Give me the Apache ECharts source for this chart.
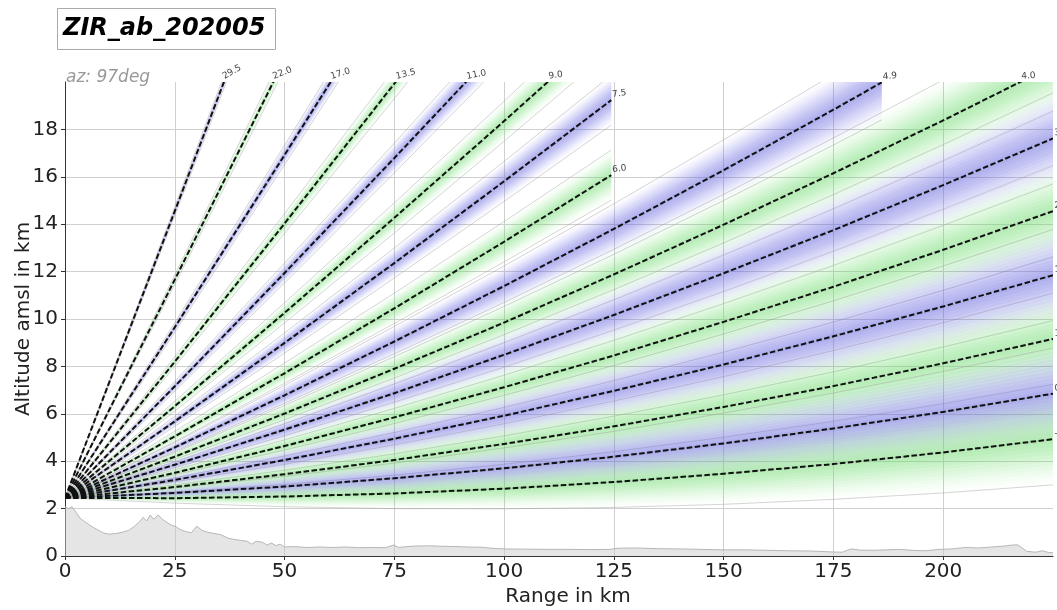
<!DOCTYPE html>
<html><head><meta charset="utf-8">
<script src="https://cdn.jsdelivr.net/npm/echarts@6/dist/echarts.min.js"></script>
<style>html,body{margin:0;padding:0;background:#fff}#chart{width:1057px;height:610px}</style>
</head><body><div id="chart"></div>
<script>
// ---------------- DATA ----------------
const xTicks = [0, 25, 50, 75, 100, 125, 150, 175, 200];
const yTicks = [0, 2, 4, 6, 8, 10, 12, 14, 16, 18];
const sampleRanges = [0, 25, 50, 75, 100, 125, 150, 175, 200, 225];

const beamLabels = ['29.5','22.0','17.0','13.5','11.0','9.0','7.5','6.0','4.9','4.0','3.2','2.4','1.7','1.0','0.4','-0.1'];
const beamAngles = [29.5, 22.0, 17.0, 13.5, 11.0, 9.0, 7.5, 6.0, 4.9, 4.0, 3.2, 2.4, 1.7, 1.0, 0.4, -0.1];
const beamMaxRange = [125, 125, 125, 125, 125, 125, 124.4, 124.4, 186, 225, 225, 225, 225, 225, 225, 225];

// beam centre heights (km) at sampleRanges
const c29_5 = [2.45, 14.55, 26.72];
const c22_0 = [2.45, 11.66, 20.95];
const c17_0 = [2.45, 9.65, 16.92, 24.26];
const c13_5 = [2.45, 8.20, 14.03, 19.93, 25.89];
const c11_0 = [2.45, 7.16, 11.94, 16.79, 21.71];
const c9_0 = [2.45, 6.32, 10.26, 14.27, 18.35, 22.50];
const c7_5 = [2.45, 5.68, 8.99, 12.36, 15.81, 19.32];
const c6_0 = [2.45, 5.05, 7.71, 10.45, 13.26, 16.14];
const c4_9 = [2.45, 4.58, 6.78, 9.05, 11.39, 13.80, 16.28, 18.83, 21.45];
const c4_0 = [2.45, 4.19, 6.01, 7.90, 9.85, 11.88, 13.98, 16.15, 18.38, 20.69];
const c3_2 = [2.45, 3.85, 5.33, 6.87, 8.49, 10.17, 11.93, 13.75, 15.65, 17.62];
const c2_4 = [2.45, 3.51, 4.64, 5.85, 7.12, 8.46, 9.88, 11.36, 12.92, 14.55];
const c1_7 = [2.45, 3.21, 4.05, 4.95, 5.92, 6.97, 8.08, 9.27, 10.53, 11.85];
const c1_0 = [2.45, 2.91, 3.45, 4.05, 4.73, 5.47, 6.29, 7.17, 8.13, 9.16];
const c0_4 = [2.45, 2.66, 2.93, 3.28, 3.70, 4.19, 4.75, 5.38, 6.08, 6.85];
const cm0_1 = [2.45, 2.44, 2.51, 2.64, 2.84, 3.12, 3.47, 3.88, 4.37, 4.93];

// lower beam edge heights (km)
const l29_5 = [2.45, 14.36, 26.35];
const l22_0 = [2.45, 11.46, 20.55];
const l17_0 = [2.45, 9.44, 16.51, 23.64];
const l13_5 = [2.45, 8.00, 13.61, 19.30, 25.06];
const l11_0 = [2.45, 6.95, 11.52, 16.16, 20.88];
const l9_0 = [2.45, 6.11, 9.83, 13.63, 17.50, 21.44];
const l7_5 = [2.45, 5.47, 8.56, 11.73, 14.96, 18.26];
const l6_0 = [2.45, 4.83, 7.29, 9.81, 12.41, 15.08];
const l4_9 = [2.45, 4.36, 6.35, 8.41, 10.53, 12.73, 15.00, 17.34, 19.75];
const l4_0 = [2.45, 3.98, 5.58, 7.26, 9.00, 10.81, 12.70, 14.65, 16.68, 18.77];
const l3_2 = [2.45, 3.64, 4.90, 6.23, 7.63, 9.10, 10.65, 12.26, 13.95, 15.70];
const l2_4 = [2.45, 3.30, 4.22, 5.21, 6.27, 7.40, 8.60, 9.87, 11.21, 12.62];
const l1_7 = [2.45, 3.00, 3.62, 4.31, 5.07, 5.90, 6.80, 7.77, 8.82, 9.93];
const l1_0 = [2.45, 2.70, 3.02, 3.41, 3.87, 4.40, 5.01, 5.68, 6.42, 7.24];
const l0_4 = [2.45, 2.44, 2.51, 2.64, 2.84, 3.12, 3.47, 3.88, 4.37, 4.93];
const lm0_1 = [2.45, 2.23, 2.08, 2.00, 1.99, 2.05, 2.18, 2.39, 2.66, 3.00];

// upper beam edge heights (km)
const u29_5 = [2.45, 14.74, 27.09];
const u22_0 = [2.45, 11.86, 21.34];
const u17_0 = [2.45, 9.85, 17.33, 24.87];
const u13_5 = [2.45, 8.41, 14.45, 20.55, 26.72];
const u11_0 = [2.45, 7.37, 12.36, 17.42, 22.55];
const u9_0 = [2.45, 6.53, 10.68, 14.90, 19.19, 23.55];
const u7_5 = [2.45, 5.90, 9.41, 13.00, 16.65, 20.38];
const u6_0 = [2.45, 5.26, 8.14, 11.09, 14.11, 17.20];
const u4_9 = [2.45, 4.79, 7.20, 9.69, 12.24, 14.86, 17.56, 20.32, 23.16];
const u4_0 = [2.45, 4.41, 6.44, 8.53, 10.70, 12.94, 15.26, 17.64, 20.09, 22.61];
const u3_2 = [2.45, 4.07, 5.75, 7.51, 9.34, 11.24, 13.21, 15.25, 17.36, 19.54];
const u2_4 = [2.45, 3.72, 5.07, 6.49, 7.97, 9.53, 11.16, 12.86, 14.63, 16.47];
const u1_7 = [2.45, 3.43, 4.47, 5.59, 6.78, 8.04, 9.37, 10.77, 12.24, 13.78];
const u1_0 = [2.45, 3.13, 3.87, 4.69, 5.58, 6.54, 7.57, 8.67, 9.84, 11.09];
const u0_4 = [2.45, 2.87, 3.36, 3.92, 4.56, 5.26, 6.03, 6.88, 7.79, 8.78];
const um0_1 = [2.45, 2.66, 2.93, 3.28, 3.70, 4.19, 4.75, 5.38, 6.08, 6.85];

// terrain profile
const terrainRange = [0,0.8,1.6,2.5,3.4,4.5,5.5,6.5,7.5,8.7,
  10,11.5,13,14.5,15.8,17,17.8,18.6,19.4,20.2,
  21.2,22.2,23.2,24.2,25.2,26.2,27.5,28.8,30,31.2,
  32.5,34,35.5,37,38.5,40,41.5,42.5,43.5,45,
  46,47,48,49,50,52,55,58,61,64,
  67,70,73,74.8,76,78,80,83,86,89,
  92,95,97,100,105,110,115,120,124,126,
  130,135,140,145,150,155,160,165,170,175,
  177,179,181,184,187,190,193,196,199,202,
  205,208,211,214,215.5,217,219,221,222.5,224,
  225];
const terrainHeight = [2.08,2.0,2.08,1.85,1.6,1.45,1.32,1.2,1.1,0.98,
  0.92,0.95,1.0,1.08,1.25,1.45,1.63,1.48,1.73,1.55,
  1.73,1.55,1.42,1.3,1.24,1.12,1.03,0.98,1.26,1.08,
  1.0,0.95,0.9,0.76,0.7,0.66,0.62,0.5,0.62,0.58,
  0.46,0.55,0.44,0.5,0.38,0.4,0.36,0.38,0.36,0.38,
  0.35,0.36,0.35,0.46,0.36,0.4,0.42,0.43,0.41,0.4,
  0.38,0.37,0.33,0.3,0.29,0.28,0.28,0.27,0.28,0.33,
  0.34,0.31,0.3,0.28,0.26,0.26,0.24,0.22,0.21,0.17,
  0.16,0.3,0.25,0.24,0.26,0.28,0.24,0.22,0.28,0.3,
  0.36,0.34,0.38,0.42,0.46,0.47,0.2,0.16,0.22,0.15,
  0.14];

const beamCenter = [c29_5,c22_0,c17_0,c13_5,c11_0,c9_0,c7_5,c6_0,c4_9,c4_0,c3_2,c2_4,c1_7,c1_0,c0_4,cm0_1];
const beamLower  = [l29_5,l22_0,l17_0,l13_5,l11_0,l9_0,l7_5,l6_0,l4_9,l4_0,l3_2,l2_4,l1_7,l1_0,l0_4,lm0_1];
const beamUpper  = [u29_5,u22_0,u17_0,u13_5,u11_0,u9_0,u7_5,u6_0,u4_9,u4_0,u3_2,u2_4,u1_7,u1_0,u0_4,um0_1];

// ---------------- RENDERING ----------------
const FONT = "'DejaVu Sans', sans-serif";
const PURPLE = '110,110,230', GREEN = '120,225,120';
const LAYERS = 12, PEAK = 0.72, FALLOFF = 1.5;
// opacity of each nested layer so that total opacity falls off smoothly from centre to edge
const layerAlpha = [];
for (let m = 1; m <= LAYERS; m++) {
  layerAlpha.push(PEAK * (Math.pow(1 - (m - 1) / LAYERS, FALLOFF) - Math.pow(1 - m / LAYERS, FALLOFF)));
}

function beamPixels(api, i, arr) {
  const maxR = beamMaxRange[i];
  const pts = [];
  for (let k = 0; k < arr.length; k++) {
    const r = sampleRanges[k];
    const p = api.coord([r, arr[k]]);
    if (r <= maxR) { pts.push(p); }
    else {
      const q = pts[pts.length - 1], r0 = sampleRanges[k - 1];
      const f = (maxR - r0) / (r - r0);
      pts.push([q[0] + (p[0] - q[0]) * f, q[1] + (p[1] - q[1]) * f]);
      break;
    }
  }
  return pts;
}

function renderBand(params, api) {
  const i = params.dataIndex;
  const C = beamPixels(api, i, beamCenter[i]);
  const L = beamPixels(api, i, beamLower[i]);
  const U = beamPixels(api, i, beamUpper[i]);
  const n = Math.min(C.length, L.length, U.length);
  const col = i % 2 === 0 ? PURPLE : GREEN;
  const children = [];
  for (let k = 1; k <= LAYERS; k++) {
    const f = k / LAYERS;
    const up = [], lo = [];
    for (let j = 0; j < n; j++) {
      up.push([C[j][0] + (U[j][0] - C[j][0]) * f, C[j][1] + (U[j][1] - C[j][1]) * f]);
      lo.push([C[j][0] + (L[j][0] - C[j][0]) * f, C[j][1] + (L[j][1] - C[j][1]) * f]);
    }
    children.push({ type: 'polygon', silent: true, shape: { points: up.concat(lo.reverse()) },
      style: { fill: 'rgba(' + col + ',' + layerAlpha[k - 1].toFixed(4) + ')' } });
  }
  children.push({ type: 'polyline', silent: true, shape: { points: U.slice(0, n) },
    style: { stroke: 'rgba(150,150,150,0.5)', lineWidth: 0.8, fill: null } });
  children.push({ type: 'polyline', silent: true, shape: { points: L.slice(0, n) },
    style: { stroke: 'rgba(150,150,150,0.5)', lineWidth: 0.8, fill: null } });
  return { type: 'group', children: children };
}

function renderCenter(params, api) {
  const i = params.dataIndex;
  const C = beamPixels(api, i, beamCenter[i]);
  return { type: 'polyline', silent: true, shape: { points: C },
    style: { stroke: '#111', lineWidth: 2, lineDash: [5.5, 2.5], fill: null } };
}

function renderLabel(params, api) {
  const i = params.dataIndex;
  const C = beamPixels(api, i, beamCenter[i]);
  const topY = api.coord([0, 20])[1];
  let end = C[C.length - 1];
  for (let j = 1; j < C.length; j++) {
    if (C[j][1] < topY) {
      const a = C[j - 1], b = C[j];
      const f = (topY - a[1]) / (b[1] - a[1]);
      end = [a[0] + (b[0] - a[0]) * f, topY];
      break;
    }
  }
  return { type: 'text', silent: true, x: end[0] + 1.5, y: end[1] - 1,
    rotation: beamAngles[i] * Math.PI / 180,
    style: { text: beamLabels[i], fontSize: 9, fontFamily: FONT, fill: '#444', align: 'left', verticalAlign: 'bottom' } };
}

const beamIdx = beamLabels.map((_, i) => [i, 0]);

const chart = echarts.init(document.getElementById('chart'), null, { renderer: 'canvas' });
chart.setOption({
  animation: false,
  backgroundColor: '#fff',
  grid: { left: 65, right: 4, top: 82, bottom: 54, outerBoundsMode: 'none', containLabel: false },
  xAxis: {
    type: 'value', min: xTicks[0], max: 225, interval: 25,
    name: 'Range in km', nameLocation: 'middle', nameGap: 31, nameMoveOverlap: false,
    nameTextStyle: { fontSize: 20, color: '#222', fontFamily: FONT, padding: [0, 0, 0, 18] },
    axisLine: { show: true, lineStyle: { color: '#333', width: 1 } },
    axisTick: { show: true, length: 4, lineStyle: { color: '#333' } },
    axisLabel: { fontSize: 20, color: '#222', fontFamily: FONT, margin: 6, showMaxLabel: false,
      formatter: v => (xTicks.indexOf(v) >= 0 ? String(v) : '') },
    splitLine: { show: true, showMaxLine: false, lineStyle: { color: '#cfcfcf', width: 1 } }
  },
  yAxis: {
    type: 'value', min: yTicks[0], max: 20, interval: 2,
    name: 'Altitude amsl in km', nameLocation: 'middle', nameGap: 31, nameMoveOverlap: false,
    nameTextStyle: { fontSize: 20, color: '#222', fontFamily: FONT },
    axisLine: { show: true, lineStyle: { color: '#333', width: 1 } },
    axisTick: { show: true, length: 4, lineStyle: { color: '#333' } },
    axisLabel: { fontSize: 20, color: '#222', fontFamily: FONT, margin: 7, showMaxLabel: false,
      formatter: v => (yTicks.indexOf(v) >= 0 ? String(v) : '') },
    splitLine: { show: true, showMaxLine: false, lineStyle: { color: '#cfcfcf', width: 1 } }
  },
  graphic: [
    { type: 'rect', left: 57, top: 8, shape: { width: 218, height: 41 },
      style: { fill: '#fff', stroke: '#aaa', lineWidth: 1 } },
    { type: 'text', left: 63, top: 17,
      style: { text: 'ZIR_ab_202005', font: "italic bold 24px 'DejaVu Sans', sans-serif", fill: '#000' } },
    { type: 'text', left: 66, top: 69,
      style: { text: 'az: 97deg', font: "italic 17px 'DejaVu Sans', sans-serif", fill: '#999' } }
  ],
  series: [
    { type: 'line', data: terrainRange.map((r, k) => [r, terrainHeight[k]]), symbol: 'none', silent: true,
      lineStyle: { color: '#a8a8a8', width: 0.8 }, areaStyle: { color: '#cccccc', opacity: 0.5 }, z: 1 },
    { type: 'custom', coordinateSystem: 'cartesian2d', clip: true, data: beamIdx, renderItem: renderBand, z: 2 },
    { type: 'custom', coordinateSystem: 'cartesian2d', clip: true, data: beamIdx, renderItem: renderCenter, z: 3 },
    { type: 'custom', coordinateSystem: 'cartesian2d', clip: false, data: beamIdx, renderItem: renderLabel, z: 4 }
  ]
});
</script></body></html>
